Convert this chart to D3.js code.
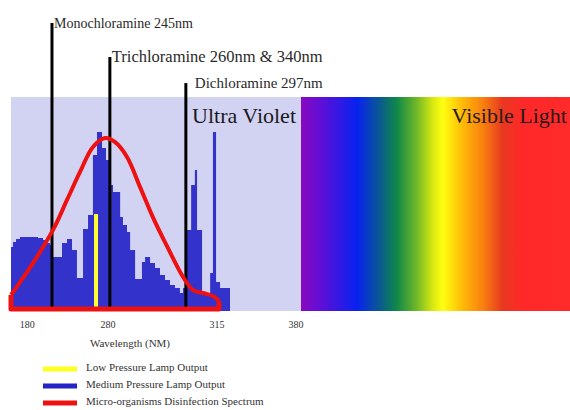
<!DOCTYPE html>
<html>
  <head>
    <script src="https://d3js.org/d3.v7.min.js"></script>
    <style>
      body { margin: 0; background: #fff; }
      text { font-family: "Liberation Serif", "DejaVu Serif", serif; }
    </style>
  </head>
  <body>
    <script>
      const width = 570;
      const height = 410;

      // the axis in the picture is uneven, so it is a piecewise scale
      const axisBreaks = [160, 280, 315, 380, 400, 700];
      const tickValues = [180, 280, 315, 380];

      // medium pressure lamp output: [wavelength where step starts, relative output]
      const mediumPressure = [
        [160, 29.9], [162.5, 32.2], [166.2, 33.6], [171.1, 34.6], [193.4, 34.1],
        [199.6, 33.2], [204.5, 31.8], [208.2, 30.8], [210.7, 25.2], [223.1, 31.8],
        [229.3, 33.6], [235.5, 28.5], [241.6, 15.4], [249.1, 38.3], [255.3, 44.9],
        [261.4, 72.9], [266.4, 83.6], [272.6, 76.2], [277.5, 70.6], [280.6, 58.9],
        [281.6, 55.6], [283.9, 43.9], [284.8, 40.2], [286.1, 36.9], [287.1, 28.5],
        [288.7, 15.0], [290.9, 22.9], [291.9, 25.2], [293.5, 22.4], [295.1, 20.1],
        [296.7, 16.8], [298.3, 14.5], [299.9, 12.1], [301.5, 10.7], [303.1, 8.4],
        [304.1, 10.7], [305.0, 37.9], [306.7, 58.9], [307.9, 65.9], [308.6, 37.9],
        [310.2, 7.5], [312.8, 17.8], [313.7, 83.6], [314.7, 13.6], [317.5, 10.7],
        [325.7, 0]
      ];

      // low pressure lamp output (single line)
      const lowPressure = [{ nm: 265.2, value: 45.3 }];

      // micro-organisms disinfection spectrum
      const disinfection = [
        [160, 7.5], [187.2, 22.4], [212.0, 37.9], [229.3, 51.9], [245.4, 65.0],
        [261.4, 76.6], [276.3, 80.8], [282.2, 79.0], [286.1, 72.0], [290.3, 57.9],
        [294.4, 43.9], [298.9, 30.4], [304.1, 15.9], [307.3, 9.8], [310.5, 8.4],
        [313.7, 7.0], [316.6, 4.7]
      ];
      const disinfectionBase = [[316.6, 4.7], [316.6, 0.9], [160, 0.9], [160, 7.5]];

      const chloramines = [
        { label: "Monochloramine 245nm", nm: 210.7, top: 134.6 },
        { label: "Trichloramine 260nm & 340nm", nm: 280.6, top: 118.7 },
        { label: "Dichloramine 297nm", nm: 305.0, top: 106.5 }
      ];
      // label font size and offset from the marker line
      const chlLabelSize = [14, 16.5, 15];
      const chlLabelDx = [2, 2, 9];

      const spectrumStops = [
        [400, "#8a08c0"], [424.5, "#5a10d8"], [462.5, "#0822f0"], [488, "#0a5a90"],
        [507, "#108848"], [529, "#70b828"], [547, "#d8e810"], [558, "#ffff10"],
        [581, "#ffb808"], [603, "#f88010"], [625, "#e83820"], [648, "#ff2828"],
        [700, "#ff2a2a"]
      ];

      const legendItems = [
        { label: "Low Pressure Lamp Output", color: "#ffff22" },
        { label: "Medium Pressure Lamp Output", color: "#2424c4" },
        { label: "Micro-organisms Disinfection Spectrum", color: "#ee1111" }
      ];

      const svg = d3.select("body")
        .append("svg")
        .attr("width", width)
        .attr("height", height);

      const x = d3.scaleLinear()
        .domain(axisBreaks)
        .range([11, 108, 217, 296, 301, 570]);

      const y = d3.scaleLinear()
        .domain([0, 100])
        .range([311, 97]);

      // spectrum gradient
      const grad = svg.append("defs").append("linearGradient")
        .attr("id", "visible")
        .attr("gradientUnits", "userSpaceOnUse")
        .attr("x1", x(400)).attr("x2", x(700))
        .attr("y1", 0).attr("y2", 0);
      grad.selectAll("stop")
        .data(spectrumStops)
        .join("stop")
        .attr("offset", d => (x(d[0]) - x(400)) / (x(700) - x(400)))
        .attr("stop-color", d => d[1]);

      // ultra violet band
      svg.append("rect")
        .attr("x", x(160)).attr("y", y(100))
        .attr("width", x(400) - x(160))
        .attr("height", y(0) - y(100))
        .attr("fill", "#d2d2f2");

      // visible light band
      svg.append("rect")
        .attr("x", x(400)).attr("y", y(100))
        .attr("width", x(700) - x(400))
        .attr("height", y(0) - y(100))
        .attr("fill", "url(#visible)");

      // medium pressure histogram
      const area = d3.area()
        .curve(d3.curveStepAfter)
        .x(d => x(d[0]))
        .y0(y(0))
        .y1(d => y(d[1]));

      svg.append("path")
        .datum(mediumPressure)
        .attr("d", area)
        .attr("fill", "#3333cc");

      // low pressure line
      svg.selectAll(".low")
        .data(lowPressure)
        .join("rect")
        .attr("class", "low")
        .attr("x", d => x(d.nm) - 2)
        .attr("y", d => y(d.value))
        .attr("width", 4)
        .attr("height", d => y(0) - y(d.value))
        .attr("fill", "#ffff33");

      // chloramine markers
      svg.selectAll(".chl")
        .data(chloramines)
        .join("line")
        .attr("class", "chl")
        .attr("x1", d => x(d.nm)).attr("x2", d => x(d.nm))
        .attr("y1", d => y(d.top)).attr("y2", y(0))
        .attr("stroke", "#000")
        .attr("stroke-width", 3);

      svg.selectAll(".chl-label")
        .data(chloramines)
        .join("text")
        .attr("class", "chl-label")
        .attr("x", (d, i) => x(d.nm) + chlLabelDx[i])
        .attr("y", d => y(d.top) + 5)
        .attr("font-size", (d, i) => chlLabelSize[i])
        .attr("fill", "#2a2a2a")
        .text(d => d.label);

      // disinfection spectrum
      const line = d3.line()
        .x(d => x(d[0]))
        .y(d => y(d[1]));

      svg.append("path")
        .datum(disinfection)
        .attr("d", line.curve(d3.curveCatmullRom))
        .attr("fill", "none")
        .attr("stroke", "#ee1111")
        .attr("stroke-width", 4)
        .attr("stroke-linejoin", "round");

      svg.append("path")
        .datum(disinfectionBase)
        .attr("d", d3.line().x(d => x(d[0])).y(d => y(d[1])))
        .attr("fill", "none")
        .attr("stroke", "#ee1111")
        .attr("stroke-width", 5)
        .attr("stroke-linejoin", "round");

      // band titles
      svg.append("text")
        .attr("x", x(380)).attr("y", 123)
        .attr("text-anchor", "end")
        .attr("font-size", 22)
        .attr("fill", "#1a1a1a")
        .text("Ultra Violet");

      svg.append("text")
        .attr("x", x(700) - 3).attr("y", 123)
        .attr("text-anchor", "end")
        .attr("font-size", 22)
        .attr("fill", "#2a1a1a")
        .text("Visible Light");

      // axis labels
      svg.selectAll(".tick")
        .data(tickValues)
        .join("text")
        .attr("class", "tick")
        .attr("x", d => x(d))
        .attr("y", 328)
        .attr("text-anchor", "middle")
        .attr("font-size", 10)
        .attr("fill", "#333")
        .text(d => d);

      svg.append("text")
        .attr("x", 130).attr("y", 347)
        .attr("text-anchor", "middle")
        .attr("font-size", 11)
        .attr("fill", "#333")
        .text("Wavelength (NM)");

      // legend
      const legend = svg.selectAll(".legend")
        .data(legendItems)
        .join("g")
        .attr("class", "legend")
        .attr("transform", (d, i) => `translate(43, ${369 + i * 17})`);

      legend.append("line")
        .attr("x1", 0).attr("x2", 34)
        .attr("stroke", d => d.color)
        .attr("stroke-width", 5);

      legend.append("text")
        .attr("x", 43).attr("y", 2)
        .attr("font-size", 11)
        .attr("fill", "#333")
        .text(d => d.label);
    </script>
  </body>
</html>
